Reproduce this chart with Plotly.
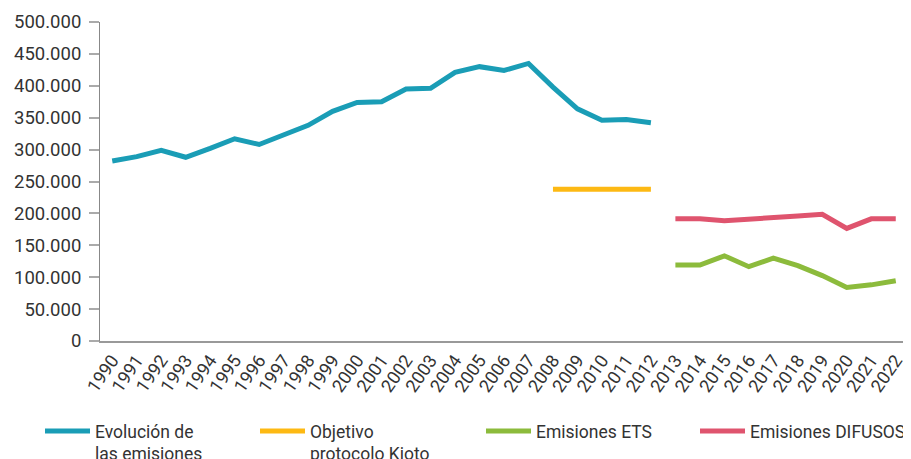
import plotly.graph_objects as go

years_hist = list(range(1990, 2013))
emis_hist = [282000, 289000, 299000, 288000, 302000, 317000, 308000, 323000, 338000, 360000,
             374000, 375000, 395000, 396000, 421000, 430000, 424000, 435000, 398000, 364000,
             346000, 347000, 342000]

years_kyoto = list(range(2008, 2013))
kyoto = [238000, 238000, 238000, 238000, 238000]

years_new = list(range(2013, 2023))
ets = [119000, 119000, 133500, 116500, 130000, 118000, 102500, 84000, 88000, 94500]
difusos = [191500, 191500, 188500, 191500, 194000, 196000, 198500, 176500, 191500, 191500]

year_labels = [str(y) for y in range(1990, 2023)]
y_ticks = list(range(0, 500001, 50000))

FONT = "Roboto"
TXT = "#333333"
W, H = 903, 451  # page adds an 8px body margin

fig = go.Figure()
series = [
    ("Evolución de<br>las emisiones", years_hist, emis_hist, "#1a9db6", "legend"),
    ("Objetivo<br>protocolo Kioto", years_kyoto, kyoto, "#fdb913", "legend2"),
    ("Emisiones ETS", years_new, ets, "#8cbb3c", "legend3"),
    ("Emisiones DIFUSOS", years_new, difusos, "#df546e", "legend4"),
]
for name, xs, ys, col, lg in series:
    fig.add_trace(go.Scatter(x=xs, y=ys, mode="lines", name=name,
                             line=dict(color=col, width=5), legend=lg,
                             hoverinfo="x+y"))

leg_common = dict(orientation="h", xref="container", yref="container",
                  xanchor="left", yanchor="top", valign="top",
                  font=dict(family=FONT, size=17.5, color=TXT),
                  bgcolor="rgba(0,0,0,0)", itemwidth=45, tracegroupgap=0)
ytop = 1 - 405 / H
fig.update_layout(
    width=W, height=H,
    margin=dict(l=92, r=3, t=11, b=118),
    paper_bgcolor="white", plot_bgcolor="white",
    separators=",.",
    font=dict(family=FONT, size=18, color=TXT),
    showlegend=True,
    legend=dict(x=32 / W, y=ytop, **leg_common),
    legend2=dict(x=247 / W, y=ytop, **leg_common),
    legend3=dict(x=473 / W, y=ytop, **leg_common),
    legend4=dict(x=687 / W, y=ytop, **leg_common),
    xaxis=dict(
        range=[1989.5, 2022.5], tickmode="array",
        tickvals=list(range(1990, 2023)), ticktext=year_labels,
        tickangle=-55, showgrid=False, zeroline=False,
        showline=True, linecolor="#999999", linewidth=1.5,
        ticks="", tickfont=dict(family=FONT, size=18, color=TXT),
    ),
    yaxis=dict(
        range=[0, 500000], tickmode="array", tickvals=y_ticks,
        tickformat=",d", showgrid=False, zeroline=False,
        showline=True, linecolor="#888888", linewidth=1,
        ticks="outside", ticklen=10, tickcolor="#aaaaaa", tickwidth=1.5,
        ticklabelstandoff=4,
        tickfont=dict(family=FONT, size=18.5, color=TXT),
    ),
)

fig.write_html("out.html")
